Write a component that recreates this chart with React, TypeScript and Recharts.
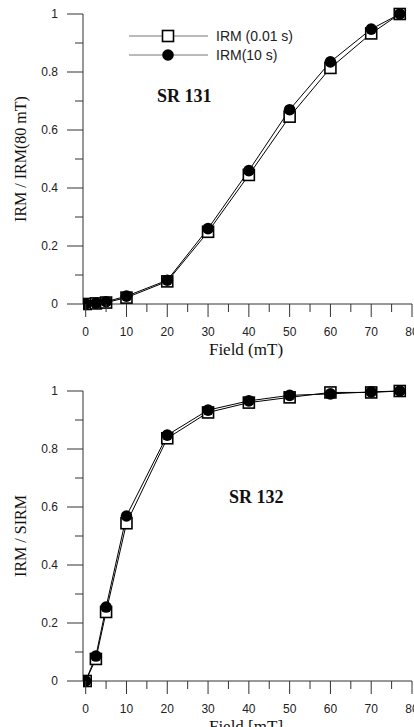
import React from "react";
import { Legend, Line, LineChart, XAxis, YAxis } from "recharts";

// applied field steps (mT)
const FIELD = [0, 2.5, 5, 10, 20, 30, 40, 50, 60, 70, 77];

// SR 131, normalised to IRM(80 mT)
const SR131_FAST = [0, 0.002, 0.005, 0.022, 0.078, 0.249, 0.445, 0.646, 0.814, 0.933, 1.0];
const SR131_SLOW = [0, 0.003, 0.008, 0.027, 0.082, 0.26, 0.46, 0.67, 0.835, 0.948, 1.0];

// SR 132, normalised to SIRM
const SR132_FAST = [0, 0.076, 0.238, 0.544, 0.837, 0.926, 0.96, 0.978, 0.995, 0.995, 1.0];
const SR132_SLOW = [0, 0.086, 0.255, 0.569, 0.848, 0.934, 0.966, 0.985, 0.99, 0.997, 1.0];

const Y_TICKS = [0, 0.1, 0.2, 0.3, 0.4, 0.5, 0.6, 0.7, 0.8, 0.9, 1];
const X_TICKS = [0, 5, 10, 15, 20, 25, 30, 35, 40, 45, 50, 55, 60, 65, 70, 75, 80];

const SANS = "'Liberation Sans', Arial, sans-serif";
const SERIF = "'Liberation Serif', 'Times New Roman', serif";
const AXIS_COLOR = "#333";

const W = 440;
const H = 360;

function YTick({ x, y, payload }: any) {
  const v = payload.value as number;
  const major = Math.round(v * 10) % 2 === 0;
  return (
    <g>
      <line x1={x - (major ? 16 : 8)} x2={x} y1={y} y2={y} stroke={AXIS_COLOR} />
      {major && (
        <text x={x - 25} y={y} dy="0.35em" textAnchor="end" fontSize={12} fontFamily={SANS} fill="#222">
          {String(v)}
        </text>
      )}
    </g>
  );
}

function XTick({ x, y, payload }: any) {
  const v = payload.value as number;
  const major = v % 10 === 0;
  return (
    <g>
      <line x1={x} x2={x} y1={y} y2={y + (major ? 13 : 8)} stroke={AXIS_COLOR} />
      {major && (
        <text x={x} y={y + 28} dy="0.35em" textAnchor="middle" fontSize={12} fontFamily={SANS} fill="#222">
          {String(v)}
        </text>
      )}
    </g>
  );
}

const squareDot = (p: any) => (
  <rect key={`s${p.index}`} x={p.cx - 5.5} y={p.cy - 5.5} width={11} height={11} fill="#fff" stroke="#000" strokeWidth={1.6} />
);
const circleDot = (p: any) => <circle key={`c${p.index}`} cx={p.cx} cy={p.cy} r={5.8} fill="#000" />;

function LegendBox() {
  return (
    <svg width={170} height={40} style={{ display: "block" }}>
      <line x1={0} x2={79} y1={10} y2={10} stroke="#777" />
      <rect x={33.5} y={4.5} width={11} height={11} fill="#fff" stroke="#000" strokeWidth={1.6} />
      <text x={87} y={10} dy="0.35em" fontSize={14} fontFamily={SANS} fill="#222">
        IRM (0.01 s)
      </text>
      <line x1={0} x2={79} y1={29} y2={29} stroke="#777" />
      <circle cx={39} cy={29} r={5.8} fill="#000" />
      <text x={87} y={29} dy="0.35em" fontSize={14} fontFamily={SANS} fill="#222">
        IRM(10 s)
      </text>
    </svg>
  );
}

function Panel({
  top,
  fast,
  slow,
  yTitle,
  xTitle,
  tag,
  tagX,
  tagY,
  legend,
}: {
  top: number;
  fast: number[];
  slow: number[];
  yTitle: string;
  xTitle: string;
  tag: string;
  tagX: number;
  tagY: number;
  legend?: boolean;
}) {
  const rows = FIELD.map((f, i) => ({ field: f, fast: fast[i], slow: slow[i] }));
  return (
    <div style={{ position: "absolute", left: 0, top, width: W, height: H }}>
      <LineChart width={W} height={H} data={rows} margin={{ top: 14, right: 28, left: 23, bottom: 0 }}>
        <XAxis
          type="number"
          dataKey="field"
          domain={[-0.66, 80]}
          ticks={X_TICKS}
          interval={0}
          height={56}
          tickSize={0}
          tickMargin={0}
          tickLine={false}
          tick={<XTick />}
          stroke={AXIS_COLOR}
          allowDataOverflow
        />
        <YAxis
          type="number"
          domain={[0, 1]}
          ticks={Y_TICKS}
          interval={0}
          width={60}
          tickSize={0}
          tickMargin={0}
          tickLine={false}
          tick={<YTick />}
          stroke={AXIS_COLOR}
        />
        {legend && (
          <Legend
            layout="vertical"
            align="center"
            verticalAlign="middle"
            wrapperStyle={{ position: "absolute", left: 129, top: 26, width: 170 }}
            content={() => <LegendBox />}
          />
        )}
        <Line
          dataKey="fast"
          name="IRM (0.01 s)"
          stroke="#000"
          strokeWidth={1}
          dot={squareDot}
          activeDot={false}
          isAnimationActive={false}
        />
        <Line
          dataKey="slow"
          name="IRM(10 s)"
          stroke="#000"
          strokeWidth={1}
          dot={circleDot}
          activeDot={false}
          isAnimationActive={false}
        />
      </LineChart>
      <svg width={W} height={H} style={{ position: "absolute", left: 0, top: 0, pointerEvents: "none" }}>
        <text
          x={20}
          y={159}
          transform="rotate(-90 20 159)"
          textAnchor="middle"
          dy="0.35em"
          fontSize={16}
          fontFamily={SERIF}
          fill="#111"
        >
          {yTitle}
        </text>
        <text x={246} y={355} textAnchor="middle" fontSize={17} fontFamily={SERIF} fill="#111">
          {xTitle}
        </text>
        <text x={tagX} y={tagY} fontSize={18} fontWeight="bold" fontFamily={SERIF} fill="#111">
          {tag}
        </text>
      </svg>
    </div>
  );
}

export default function App() {
  return (
    <div style={{ position: "absolute", left: 0, top: 0, width: 414, height: 727, overflow: "hidden", background: "#fff" }}>
      <Panel
        top={0}
        fast={SR131_FAST}
        slow={SR131_SLOW}
        yTitle="IRM / IRM(80 mT)"
        xTitle="Field (mT)"
        tag="SR 131"
        tagX={157}
        tagY={102}
        legend
      />
      <Panel
        top={377}
        fast={SR132_FAST}
        slow={SR132_SLOW}
        yTitle="IRM / SIRM"
        xTitle="Field [mT]"
        tag="SR 132"
        tagX={229}
        tagY={126}
      />
    </div>
  );
}
